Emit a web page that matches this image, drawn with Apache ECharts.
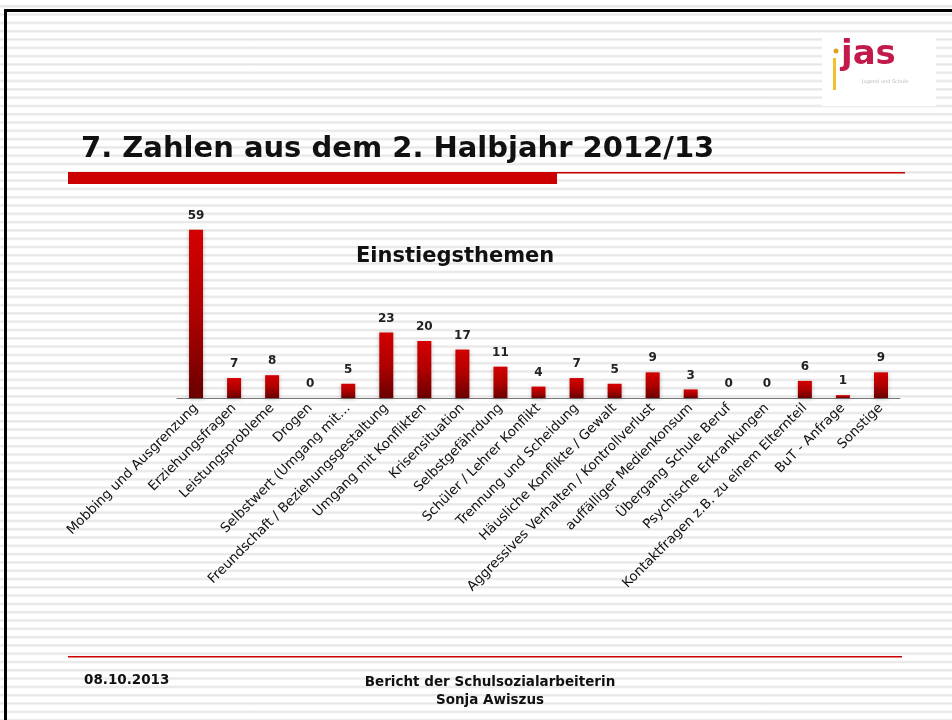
<!DOCTYPE html>
<html>
<head>
<meta charset="utf-8">
<script src="https://cdn.jsdelivr.net/npm/echarts@6/dist/echarts.min.js"></script>
<style>
html, body { margin: 0; padding: 0; }
#chart {
    width: 952px;
    height: 720px;
    background: repeating-linear-gradient(to bottom,
        #ffffff 0px, #ffffff 4.5px, #ececec 5.5px, #e6e6e6 6.5px, #ffffff 8.3px);
}
</style>
</head>
<body>
<div id="chart"></div>
<script>
// Einstiegsthemen, 2. Halbjahr 2012/13
var themen = [
    "Mobbing und Ausgrenzung",
    "Erziehungsfragen",
    "Leistungsprobleme",
    "Drogen",
    "Selbstwert (Umgang mit…",
    "Freundschaft / Beziehungsgestaltung",
    "Umgang mit Konflikten",
    "Krisensituation",
    "Selbstgefährdung",
    "Schüler / Lehrer Konflikt",
    "Trennung und Scheidung",
    "Häusliche Konflikte / Gewalt",
    "Aggressives Verhalten / Kontrollverlust",
    "auffälliger Medienkonsum",
    "Übergang Schule Beruf",
    "Psychische Erkrankungen",
    "Kontaktfragen z.B. zu einem Elternteil",
    "BuT - Anfrage",
    "Sonstige"
];
var anzahl = [59, 7, 8, 0, 5, 23, 20, 17, 11, 4, 7, 5, 9, 3, 0, 0, 6, 1, 9];

var folienTitel = "7. Zahlen aus dem 2. Halbjahr 2012/13";
var diagrammTitel = "Einstiegsthemen";
var datum = "08.10.2013";
var fusszeile = "Bericht der Schulsozialarbeiterin\nSonja Awiszus";

var chart = echarts.init(document.getElementById("chart"));
chart.setOption({
    backgroundColor: "transparent",
    animation: false,
    textStyle: { fontFamily: "DejaVu Sans" },
    title: [
        {
            text: folienTitel,
            left: 76,
            top: 130,
            textStyle: { fontFamily: "DejaVu Sans", fontSize: 29, fontWeight: "bold", color: "#111" }
        },
        {
            text: diagrammTitel,
            left: 351,
            top: 241,
            textStyle: { fontFamily: "DejaVu Sans", fontSize: 21, fontWeight: "bold", color: "#111" }
        },
        {
            text: datum,
            left: 79,
            top: 668,
            textStyle: { fontFamily: "DejaVu Sans", fontSize: 13.5, fontWeight: "bold", color: "#111" }
        },
        {
            text: fusszeile,
            left: 485,
            top: 668,
            textAlign: "center",
            textStyle: { fontFamily: "DejaVu Sans", fontSize: 13.5, fontWeight: "bold", color: "#111", lineHeight: 18, align: "center" }
        }
    ],
    graphic: [
        // Folienrahmen
        { type: "rect", shape: { x: 4, y: 9, width: 948, height: 3 }, style: { fill: "#000" } },
        { type: "rect", shape: { x: 4, y: 9, width: 3, height: 711 }, style: { fill: "#000" } },
        // rote Linien
        { type: "rect", shape: { x: 68, y: 172, width: 489, height: 12 }, style: { fill: "#cc0000" } },
        { type: "rect", shape: { x: 557, y: 172, width: 348, height: 1.5 }, style: { fill: "#cc0000" } },
        { type: "rect", shape: { x: 68, y: 656, width: 834, height: 1.5 }, style: { fill: "#cc0000" } },
        // Logo
        { type: "rect", shape: { x: 822, y: 38, width: 114, height: 68 }, style: { fill: "#fff" } },
        { type: "rect", shape: { x: 833, y: 58, width: 3, height: 32 }, style: { fill: "#f2c12e" } },
        { type: "circle", shape: { cx: 836, cy: 51, r: 2.5 }, style: { fill: "#e0a020" } },
        { type: "text", left: 841, top: 38, style: { text: "jas", fill: "#c21a4b", font: "bold 34px 'DejaVu Sans'" } },
        { type: "text", left: 862, top: 79, style: { text: "Jugend und Schule", fill: "#bbbbbb", font: "5px 'DejaVu Sans'" } }
    ],
    grid: { left: 177, right: 52, top: 227, bottom: 322, containLabel: false },
    xAxis: {
        type: "category",
        data: themen,
        axisLine: { lineStyle: { color: "#777", width: 1 } },
        axisTick: { show: false },
        axisLabel: {
            interval: 0,
            rotate: 45,
            margin: 8,
            fontSize: 13.4,
            fontFamily: "DejaVu Sans",
            color: "#111"
        }
    },
    yAxis: {
        type: "value",
        min: 0,
        max: 60,
        show: false,
        splitLine: { show: false }
    },
    series: [
        {
            type: "bar",
            data: anzahl,
            barWidth: 14,
            itemStyle: {
                color: new echarts.graphic.LinearGradient(0, 0, 0, 1, [
                    { offset: 0, color: "#d40000" },
                    { offset: 0.5, color: "#b00000" },
                    { offset: 1, color: "#6a0000" }
                ]),
                shadowBlur: 4,
                shadowColor: "rgba(0,0,0,0.25)",
                shadowOffsetY: 1
            },
            label: {
                show: true,
                position: "top",
                distance: 8,
                fontSize: 12,
                fontWeight: "bold",
                fontFamily: "DejaVu Sans",
                color: "#222"
            }
        }
    ]
});
</script>
</body>
</html>
